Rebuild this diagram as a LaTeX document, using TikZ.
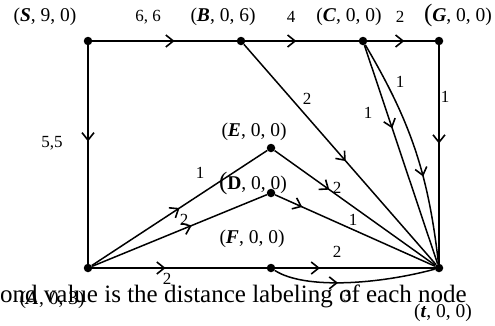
\documentclass[tikz,border=0pt]{standalone}
\usepackage{fontspec}
\setmainfont{Liberation Serif}
\usetikzlibrary{arrows.meta, decorations.markings}

\begin{document}
\begin{tikzpicture}[
  x=1pt, y=-1pt,
  vertex/.style={circle, fill=black, inner sep=0pt, minimum size=8.5pt},
  edge/.style={line width=1.5pt},
  midarrow/.style={postaction={decorate}, decoration={markings, mark=at position #1 with {\arrow{Straight Barb[length=7.5pt, width=12pt, line width=1.6pt]}}}},
  vlabel/.style={font=\fontsize{19.5}{19.5}\selectfont, inner sep=0pt},
  wlabel/.style={font=\fontsize{17}{17}\selectfont, inner sep=0pt},
  captext/.style={font=\fontsize{25}{25}\selectfont, inner sep=0pt}
]
\useasboundingbox (0,0) rectangle (495,325);

% Top row
\node[vertex] (S) at (88,41) {};
\node[vertex] (B) at (241,41) {};
\node[vertex] (C) at (363,41) {};
\node[vertex] (G) at (439,41) {};

% Middle
\node[vertex] (E) at (271,148) {};
\node[vertex] (D) at (271,193) {};

% Bottom row
\node[vertex] (A) at (88,268) {};
\node[vertex] (F) at (271,268) {};
\node[vertex] (T) at (439,268) {};

% Vertex labels
\node[vlabel] (labS) at (45,17) {(\textbf{\textit{S}}, 9, 0)};
\node[vlabel] (labB) at (223,17) {(\textbf{\textit{B}}, 0, 6)};
\node[vlabel] (labC) at (349,17) {(\textbf{\textit{C}}, 0, 0)};
\node[vlabel] (labG) at (458,15) {{\fontsize{25}{25}\selectfont(}\textbf{\textit{G}}, 0, 0)};
\node[vlabel] (labE) at (254,132) {(\textbf{\textit{E}}, 0, 0)};
\node[vlabel] (labD) at (253,183) {{\fontsize{25}{25}\selectfont(}\textbf{D}, 0, 0)};
\node[vlabel] (labF) at (252,239) {(\textbf{\textit{F}}, 0, 0)};
\node[vlabel] (labA) at (52,300) {(\textbf{\textit{A}}, 0, 3)};
\node[vlabel] (labT) at (443,313) {(\textbf{\textit{t}}, 0, 0)};

% Edges
\draw[edge, midarrow=0.57] (S) -- (B);
\draw[edge, midarrow=0.45] (B) -- (C);
\draw[edge, midarrow=0.55] (C) -- (G);
\draw[edge, midarrow=0.44] (S) -- (A);
\draw[edge, midarrow=0.45] (G) -- (T);
\draw[edge, midarrow=0.53] (B) -- (T);
\draw[edge, midarrow=0.38] (C) -- (T);
\draw[edge, midarrow=0.62] (C) to[bend left=12] (T);
\draw[edge, midarrow=0.5] (A) -- (E);
\draw[edge, midarrow=0.57] (A) -- (D);
\draw[edge, midarrow=0.34] (E) -- (T);
\draw[edge, midarrow=0.17] (D) -- (T);
\draw[edge, midarrow=0.42] (A) -- (F);
\draw[edge, midarrow=0.28] (F) -- (T);
\draw[edge, midarrow=0.4] (F) .. controls (305,290) and (380,284) .. (T);

% Weights
\node[wlabel] (w66) at (148,17) {6, 6};
\node[wlabel] (wBC) at (291,17) {4};
\node[wlabel] (wCG) at (400,17) {2};
\node[wlabel] (wSA) at (52,143) {5,5};
\node[wlabel] (wBT) at (307,99) {2};
\node[wlabel] (wCT) at (368,113) {1};
\node[wlabel] (wCTb) at (400,82) {1};
\node[wlabel] (wGT) at (445,97) {1};
\node[wlabel] (wAE) at (200,173) {1};
\node[wlabel] (wAD) at (184,220) {2};
\node[wlabel] (wET) at (337,188) {2};
\node[wlabel] (wDT) at (353,220) {1};
\node[wlabel] (wFT) at (337,252) {2};
\node[wlabel] (wAF) at (167,279) {2};
\node[wlabel] (wFTb) at (347,296) {3};

% Caption
\node[captext, anchor=base west] (note) at (0,302) {ond value is the distance labeling of each node};

\end{tikzpicture}
\end{document}
